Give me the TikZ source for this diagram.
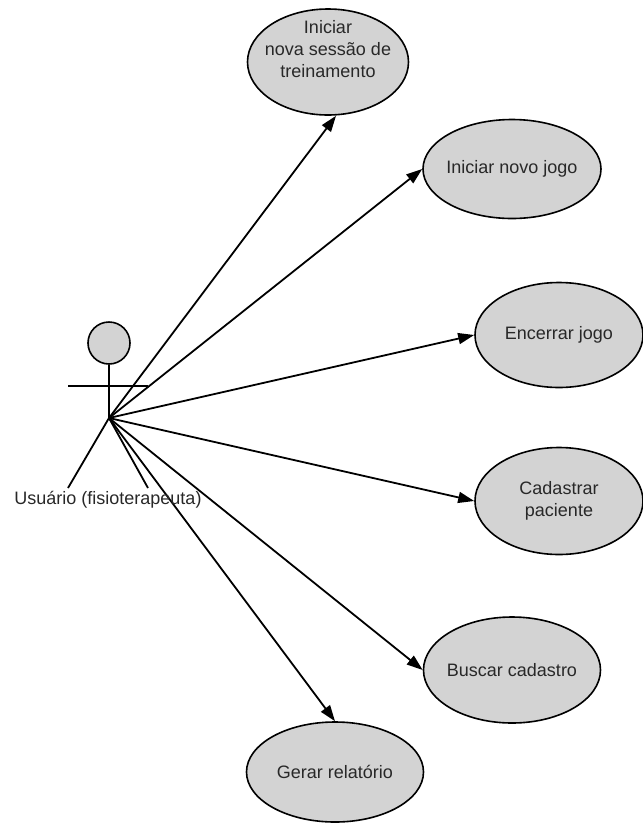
\documentclass[tikz,border=0pt]{standalone}
\usepackage{fontspec}
\setmainfont{Liberation Sans}
\usepackage{xcolor}
\usetikzlibrary{arrows.meta}
\usetikzlibrary{shapes.geometric}
\definecolor{ucgray}{RGB}{211,211,211}
\definecolor{txtgray}{RGB}{40,40,40}

\begin{document}
\begin{tikzpicture}[x=1pt,y=-1pt,
  usecase/.style={ellipse,draw,line width=1.6pt,fill=ucgray,inner xsep=-10pt,inner ysep=0pt,
    align=center,text=txtgray,font=\fontsize{18}{22}\selectfont},
  uctext/.style={align=center,text=txtgray,font=\fontsize{18}{22}\selectfont},
  assoc/.style={line width=1.8pt,-{Triangle[length=16pt,width=11pt]}},
  stick/.style={line width=1.8pt}]
\useasboundingbox (0,0) rectangle (643,823);

%%%%%%%%%%   actor
\node[circle,draw,line width=1.6pt,fill=ucgray,minimum size=42pt,inner sep=0pt] (head) at (109,343) {};
\coordinate (hip) at (109,418);
\coordinate (armL) at (68,386);
\coordinate (armR) at (148,386);
\coordinate (footL) at (68,488);
\coordinate (footR) at (148,488);
\draw[stick] (head.south) -- (hip);
\draw[stick] (armL) -- (armR);
\draw[stick] (footL) -- (hip) -- (footR);

%%%%%%%%%%   use cases
\node[usecase,minimum width=161pt,minimum height=106pt] (u1) at (328,62) {};
\node[uctext] (u1txt) at ([yshift=13pt]u1.center) {Iniciar\\nova sessão de\\treinamento};
\node[usecase,minimum width=178pt,minimum height=99pt] (u2) at (512,169) {Iniciar novo jogo};
\node[usecase,minimum width=168pt,minimum height=105pt] (u3) at (559,335) {Encerrar jogo};
\node[usecase,minimum width=168pt,minimum height=107pt] (u4) at (559,501) {Cadastrar\\paciente};
\node[usecase,minimum width=177pt,minimum height=106pt] (u5) at (512,670) {Buscar cadastro};
\node[usecase,minimum width=177pt,minimum height=100pt] (u6) at (335,772) {Gerar relatório};

%%%%%%%%%%   associations
\draw[assoc] (hip) -- ([xshift=8pt]u1.south);
\draw[assoc] (hip) -- (u2.west);
\draw[assoc] (hip) -- (u3.west);
\draw[assoc] (hip) -- (u4.west);
\draw[assoc] (hip) -- (u5.west);
\draw[assoc] (hip) -- (u6.north);

\node[uctext,anchor=base] (actorlbl) at (108,504) {Usuário (fisioterapeuta)};
\end{tikzpicture}
\end{document}
